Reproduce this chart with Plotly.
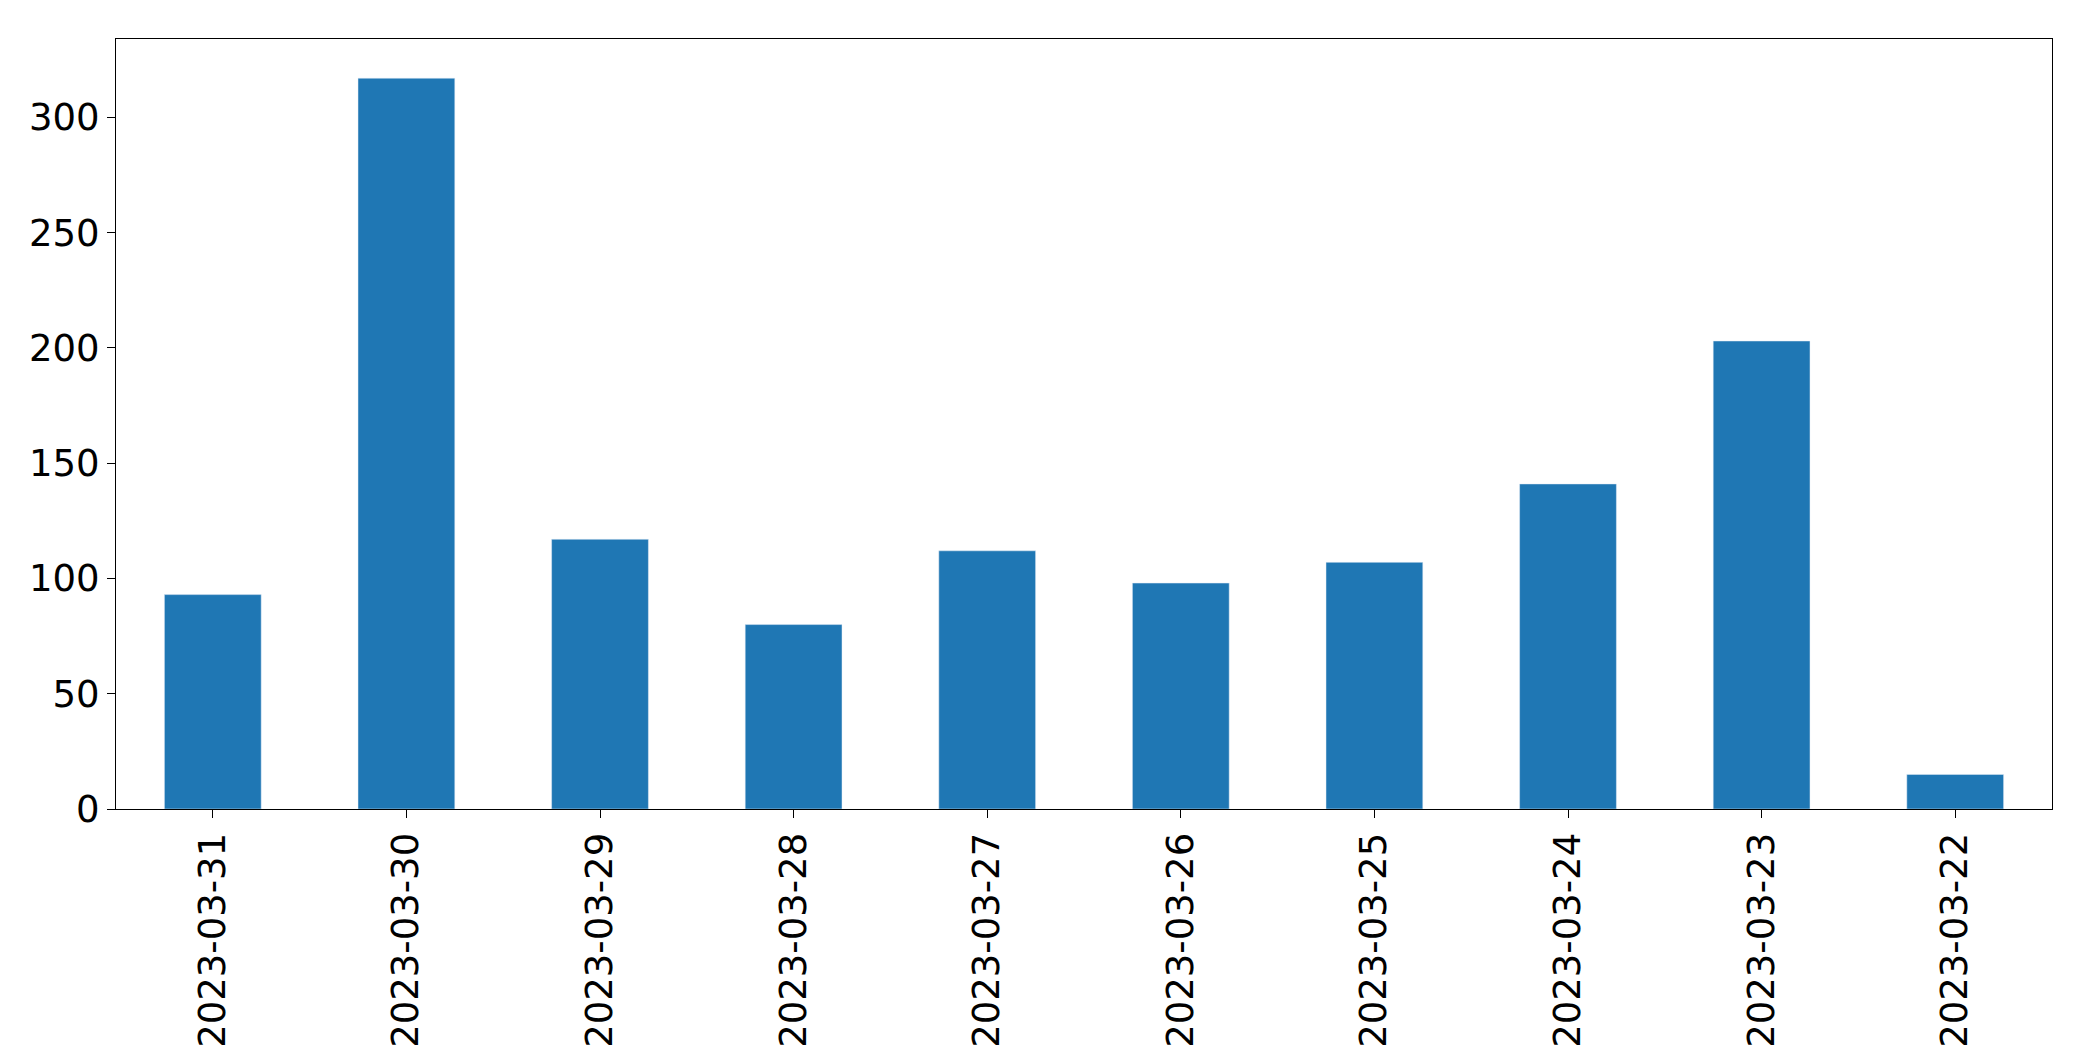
import plotly.graph_objects as go

dates = ["2023-03-31","2023-03-30","2023-03-29","2023-03-28","2023-03-27",
         "2023-03-26","2023-03-25","2023-03-24","2023-03-23","2023-03-22"]
counts = [93, 317, 117, 80, 112, 98, 107, 141, 203, 15]

fig = go.Figure(go.Bar(x=dates, y=counts, marker_color="#1f77b4", width=0.5))
fig.update_layout(
    width=2093, height=1061, plot_bgcolor="white", paper_bgcolor="white",
    margin=dict(l=108, r=49, t=31, b=260), showlegend=False,
    font=dict(family="DejaVu Sans", size=37, color="black"),
)
fig.update_xaxes(type="category", tickangle=-90, showline=True, linecolor="black",
                 mirror=True, ticks="outside", ticklen=8, tickcolor="black", showgrid=False)
fig.update_yaxes(range=[0, 334], tickvals=[0,50,100,150,200,250,300], showline=True,
                 linecolor="black", mirror=True, ticks="outside", ticklen=8,
                 tickcolor="black", showgrid=False, zeroline=False)
fig.write_html("out.html")
